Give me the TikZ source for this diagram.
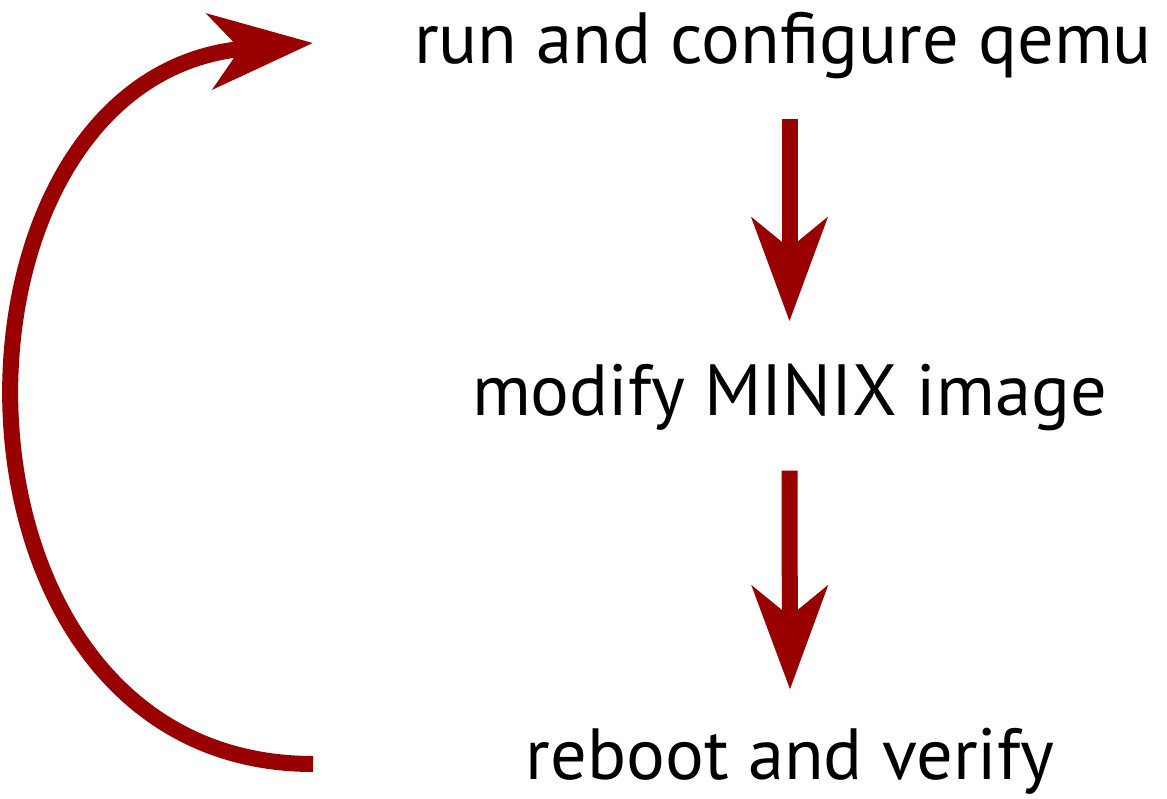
\documentclass[tikz,border=0pt]{standalone}
\usepackage{fontspec}
\setmainfont{PT Sans}
\usetikzlibrary{arrows.meta}
\definecolor{arrred}{HTML}{990000}
\begin{document}
\begin{tikzpicture}[x=1pt,y=-1pt,
  lbl/.style={anchor=base,inner sep=0pt,font=\fontsize{72.5}{84}\selectfont},
  arr/.style={draw=arrred,line width=16pt,-{Stealth[length=103pt,width=75pt,inset=30pt,fill=arrred]}}]
\useasboundingbox (0,0) rectangle (1167,798);
\node[lbl] (top) at (783,63) {run and configure qemu};
\node[lbl] (mid) at (789.5,415) {modify MINIX image};
\node[lbl] (bot) at (790,779) {reboot and verify};
\coordinate (cs) at (313,764);
\coordinate (ce) at (313,43);
\draw[arr] ([yshift=-40pt]top.south -| mid.base) -- ([yshift=42pt]mid.north);
\draw[arr] ([yshift=-40pt]mid.south) -- ([yshift=38pt]bot.north);
\draw[arr] (cs) .. controls (-80,764) and (-78,75) .. (ce);
\end{tikzpicture}
\end{document}
